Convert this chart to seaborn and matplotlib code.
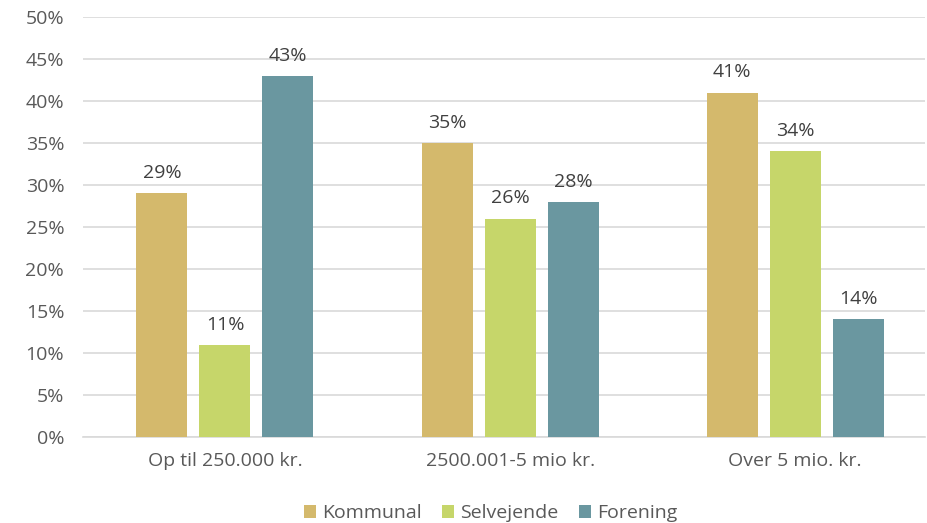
import matplotlib
matplotlib.use("Agg")
import matplotlib.pyplot as plt
import pandas as pd
import seaborn as sns

categories = ["Op til 250.000 kr.", "2500.001-5 mio kr.", "Over 5 mio. kr."]
series = ["Kommunal", "Selvejende", "Forening"]
kommunal = [29, 35, 41]
selvejende = [11, 26, 34]
forening = [43, 28, 14]
colors = ["#D4B96C", "#C6D66A", "#6A97A0"]

df = pd.DataFrame({
    "kategori": categories * 3,
    "serie": [s for s in series for _ in categories],
    "værdi": kommunal + selvejende + forening,
})

sns.set_style("white")
plt.rcParams["font.family"] = ["Open Sans", "DejaVu Sans"]

fig = plt.figure(figsize=(9.28, 5.23), dpi=100)
ax = fig.add_axes([0.0894, 0.1644, 0.9076, 0.8031])

sns.barplot(data=df, x="kategori", y="værdi", hue="serie", order=categories,
            hue_order=series, palette=colors, width=0.663, gap=0.19,
            saturation=1, linewidth=0, ax=ax, zorder=3)

for cont in ax.containers:
    ax.bar_label(cont, labels=[f"{v:.0f}%" for v in cont.datavalues],
                 padding=8, fontsize=14, color="#404040")

ax.set_xlim(-0.498, 2.456)
ax.set_ylim(0, 50)
ax.set_yticks(range(0, 51, 5))
ax.set_yticklabels([f"{t}%" for t in range(0, 51, 5)])
ax.yaxis.grid(True, color="#D9D9D9", linewidth=1.2, zorder=0)
ax.set_xlabel("")
ax.set_ylabel("")
for s in ["top", "right", "left"]:
    ax.spines[s].set_visible(False)
ax.spines["bottom"].set_color("#D9D9D9")
ax.spines["bottom"].set_linewidth(1.2)
ax.tick_params(axis="both", length=0, labelsize=14, labelcolor="#595959")
ax.tick_params(axis="x", pad=11)
ax.tick_params(axis="y", pad=13.5)

ax.legend(loc="lower center", bbox_to_anchor=(0.484, -0.245), ncol=3,
          frameon=False, fontsize=14, labelcolor="#595959",
          handlelength=0.6, handleheight=0.6, handletextpad=0.3,
          columnspacing=1.08)

fig.savefig("out.png", dpi=100)
